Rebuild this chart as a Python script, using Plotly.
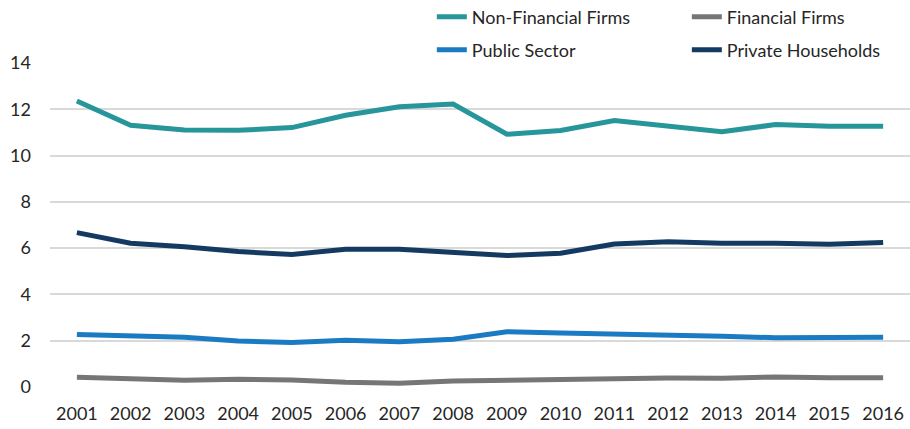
import plotly.graph_objects as go

years = list(range(2001, 2017))

non_financial = [12.36, 11.31, 11.10, 11.09, 11.21, 11.74, 12.11, 12.23,
                 10.92, 11.08, 11.51, 11.27, 11.03, 11.34, 11.27, 11.27]
financial = [0.42, 0.38, 0.29, 0.33, 0.30, 0.20, 0.16, 0.26,
             0.29, 0.36, 0.35, 0.39, 0.38, 0.43, 0.40, 0.40]
public_sector = [2.27, 2.22, 2.15, 1.99, 1.92, 2.02, 1.96, 2.06,
                 2.39, 2.33, 2.30, 2.26, 2.19, 2.13, 2.15, 2.15]
private_households = [6.67, 6.21, 6.06, 5.85, 5.73, 5.95, 5.95, 5.82,
                      5.68, 5.78, 6.18, 6.28, 6.21, 6.21, 6.17, 6.24]

y_ticks = [0, 2, 4, 6, 8, 10, 12, 14]

series = [
    ("Non-Financial Firms", non_financial, "#27969b", "legend"),
    ("Financial Firms", financial, "#747678", "legend"),
    ("Public Sector", public_sector, "#1a7bc2", "legend2"),
    ("Private Households", private_households, "#143a62", "legend2"),
]

FONT = "Lato"
TEXT = "#262626"

fig = go.Figure()
for name, vals, color, leg in series:
    fig.add_trace(go.Scatter(
        x=years, y=vals, name=name, mode="lines",
        line=dict(color=color, width=5),
        legend=leg,
    ))

legend_common = dict(
    orientation="h", xanchor="left", yanchor="middle",
    font=dict(family=FONT, size=18, color=TEXT),
    entrywidth=210, entrywidthmode="pixels",
    itemwidth=30, tracegroupgap=0, bgcolor="rgba(0,0,0,0)",
)

fig.update_layout(
    width=910, height=429,
    margin=dict(l=50, r=0, t=63, b=42, autoexpand=False),
    paper_bgcolor="white", plot_bgcolor="white",
    font=dict(family=FONT, size=18, color=TEXT),
    showlegend=True,
    legend=dict(x=0.444, y=1.142, yref="paper", xref="paper", **legend_common),
    legend2=dict(x=0.444, y=1.04, yref="paper", xref="paper", **legend_common),
    xaxis=dict(
        range=[2000.5, 2016.5], tickvals=years, ticktext=[str(y) for y in years],
        showgrid=False, zeroline=False, showline=False, ticks="",
        tickangle=0, automargin=False, ticklabelstandoff=14,
        tickfont=dict(family=FONT, size=18, color=TEXT),
    ),
    yaxis=dict(
        range=[0, 14], tickvals=y_ticks, showgrid=True,
        gridcolor="#d9d9d9", gridwidth=1.5, zeroline=False, showline=False,
        ticks="", ticklabelstandoff=18, automargin=False,
        tickfont=dict(family=FONT, size=18, color=TEXT),
    ),
)

fig.write_html("out.html")
